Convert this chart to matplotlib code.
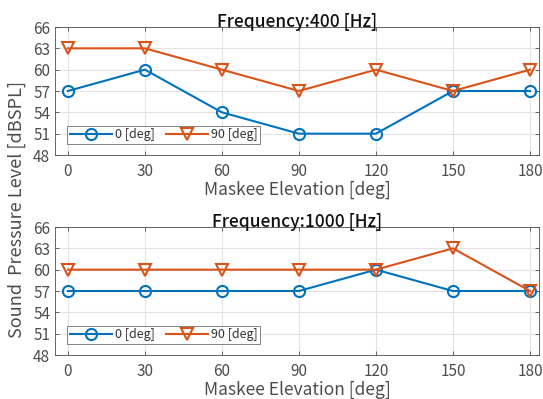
import matplotlib
matplotlib.use("Agg")
import matplotlib.pyplot as plt

# data
elev = [0, 30, 60, 90, 120, 150, 180]
spl_400_0 = [57, 60, 54, 51, 51, 57, 57]
spl_400_90 = [63, 63, 60, 57, 60, 57, 60]
spl_1000_0 = [57, 57, 57, 57, 60, 57, 57]
spl_1000_90 = [60, 60, 60, 60, 60, 63, 57]
titles = ["Frequency:400 [Hz]", "Frequency:1000 [Hz]"]
yticks = [48, 51, 54, 57, 60, 63, 66]

plt.rcParams['font.family'] = ['Noto Sans CJK JP', 'DejaVu Sans']

blue = '#0072BD'
orange = '#D95319'

fig = plt.figure(figsize=(5.43, 3.99), dpi=100)
W, H = 543, 399
ax1 = fig.add_axes([55 / W, 1 - 155 / H, (539 - 55) / W, 128 / H])
ax2 = fig.add_axes([55 / W, 1 - 355 / H, (539 - 55) / W, 128 / H])

for ax, title, s0, s90 in [(ax1, titles[0], spl_400_0, spl_400_90),
                           (ax2, titles[1], spl_1000_0, spl_1000_90)]:
    ax.plot(elev, s0, color=blue, marker='o', markersize=8, markerfacecolor='none',
            markeredgewidth=1.5, linewidth=1.5, label='0 [deg]')
    ax.plot(elev, s90, color=orange, marker='v', markersize=9, markerfacecolor='none',
            markeredgewidth=1.5, linewidth=1.5, label='90 [deg]')
    ax.set_xlim(-5, 183.5)
    ax.set_ylim(48, 66)
    ax.set_xticks(elev)
    ax.set_yticks(yticks)
    ax.grid(True, color='#e3e3e3', linewidth=0.8)
    ax.set_axisbelow(True)
    ax.tick_params(direction='in', top=True, right=True, labelsize=11,
                   colors='#4d4d4d', length=3, width=0.6)
    ax.tick_params(axis='x', pad=6)
    for sp in ax.spines.values():
        sp.set_color('#4d4d4d')
        sp.set_linewidth(0.6)
    ax.set_title(title, fontsize=12.5, color='#111111', fontweight='medium', pad=0)
    ax.set_xlabel('Maskee Elevation [deg]', fontsize=12.5, color='#4d4d4d', labelpad=0)
    leg = ax.legend(loc='lower left', bbox_to_anchor=(0.025, 0.086), ncol=2, fontsize=9,
                    frameon=True, fancybox=False, edgecolor='#4d4d4d', borderpad=0.2,
                    handlelength=3.4, columnspacing=0.9, handletextpad=0.2,
                    borderaxespad=0)
    leg.get_frame().set_linewidth(0.6)
    for t in leg.get_texts():
        t.set_color('#333333')

fig.text(17 / W, 1 - 210 / H, 'Sound  Pressure Level [dBSPL]', rotation=90, va='center',
         ha='center', fontsize=13, color='#4d4d4d')

fig.savefig('out.png', dpi=100)
